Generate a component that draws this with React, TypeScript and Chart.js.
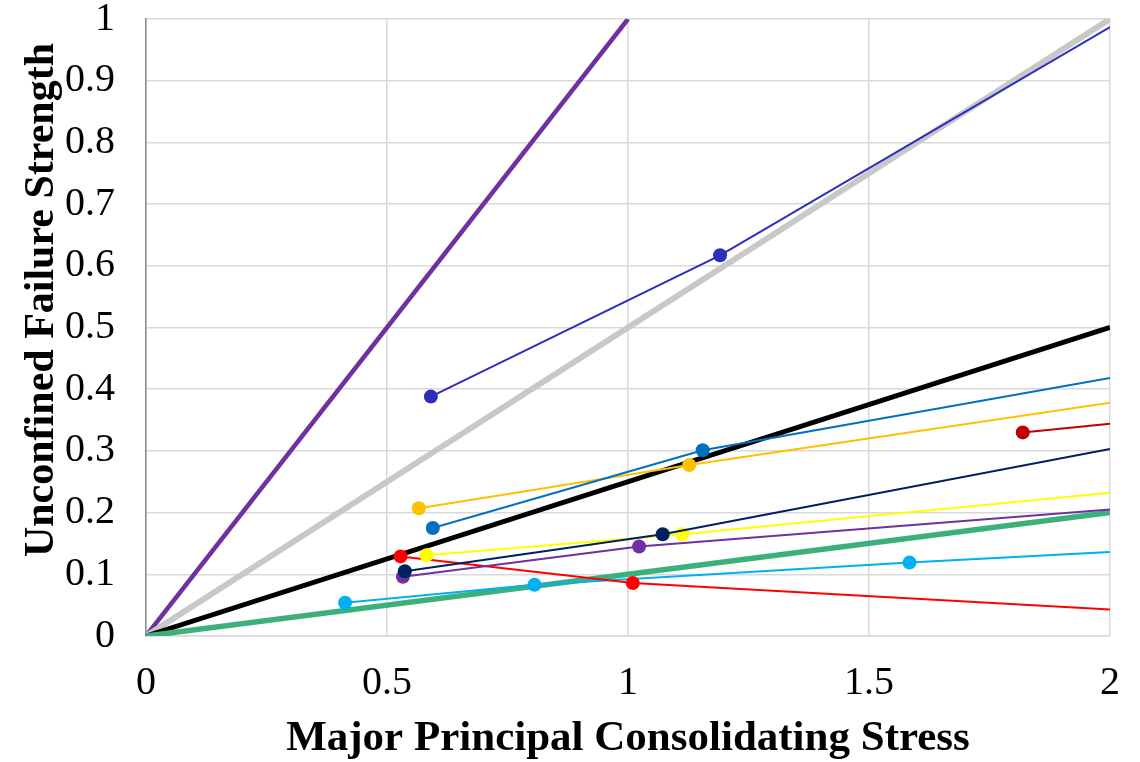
import React, { useEffect, useRef } from "react";
import { Chart, registerables } from "chart.js";

Chart.register(...registerables);

// Axis ranges / ticks
const xTickValues = [0, 0.5, 1, 1.5, 2];
const yTickValues = [0, 0.1, 0.2, 0.3, 0.4, 0.5, 0.6, 0.7, 0.8, 0.9, 1];
const xTitle = "Major Principal Consolidating Stress";
const yTitle = "Unconfined Failure Strength";

// Measured flow-function series (x = consolidating stress, y = failure strength)
const s1X = [0.591, 1.191];
const s1Y = [0.388, 0.617];
const s1End = 0.987;

const s2X = [0.595, 1.155];
const s2Y = [0.175, 0.301];
const s2End = 0.418;

const s3X = [0.566, 1.127];
const s3Y = [0.207, 0.277];
const s3End = 0.378;

const s4X = [1.819];
const s4Y = [0.33];
const s4End = 0.344;

const s5X = [0.537, 1.072];
const s5Y = [0.105, 0.165];
const s5End = 0.303;

const s6X = [0.582, 1.113];
const s6Y = [0.131, 0.165];
const s6End = 0.232;

const s7X = [0.533, 1.023];
const s7Y = [0.096, 0.145];
const s7End = 0.205;

const s8X = [0.528, 1.01];
const s8Y = [0.129, 0.086];
const s8End = 0.043;

const s9X = [0.413, 0.806, 1.584];
const s9Y = [0.054, 0.083, 0.119];
const s9End = 0.136;

// Reference flow-function lines through origin
const ref1X = [0, 1];
const ref1Y = [0, 1];
const ref2X = [0, 2];
const ref2Y = [0, 1];
const ref3X = [0, 2];
const ref3Y = [0, 0.5];
const ref4X = [0, 2];
const ref4Y = [0, 0.2];

const xEnd = 2;

const FONT = '"Liberation Serif", "Times New Roman", serif';

function series(xs: number[], ys: number[], end: number, color: string) {
  const data = xs.map((x, i) => ({ x, y: ys[i] }));
  data.push({ x: xEnd, y: end });
  const n = xs.length;
  return {
    data,
    borderColor: color,
    backgroundColor: color,
    borderWidth: 2,
    pointRadius: (c: any) => (c.dataIndex < n ? 7 : 0),
    pointHoverRadius: (c: any) => (c.dataIndex < n ? 7 : 0),
    pointBorderWidth: 0,
    showLine: true,
    tension: 0,
  };
}

function refLine(xs: number[], ys: number[], color: string, width: number) {
  return {
    data: xs.map((x, i) => ({ x, y: ys[i] })),
    borderColor: color,
    backgroundColor: color,
    borderWidth: width,
    pointRadius: 0,
    showLine: true,
    tension: 0,
  };
}

const titlePlugin = {
  id: "customTitles",
  afterDraw(chart: any) {
    const { ctx, chartArea } = chart;
    ctx.save();
    ctx.fillStyle = "#000";
    ctx.font = `bold 43px ${FONT}`;
    ctx.textAlign = "center";
    ctx.textBaseline = "alphabetic";
    ctx.fillText(xTitle, (chartArea.left + chartArea.right) / 2, 750);
    ctx.font = `bold 42px ${FONT}`;
    ctx.translate(53, 300);
    ctx.rotate(-Math.PI / 2);
    ctx.fillText(yTitle, 0, 0);
    ctx.restore();
  },
};

export default function App() {
  const ref = useRef<HTMLCanvasElement | null>(null);
  useEffect(() => {
    if (!ref.current) return;
    const chart = new Chart(ref.current, {
      type: "scatter",
      data: {
        datasets: [
          series(s1X, s1Y, s1End, "#2C2FBA"),
          series(s2X, s2Y, s2End, "#0070C0"),
          series(s3X, s3Y, s3End, "#FFC000"),
          series(s4X, s4Y, s4End, "#C00000"),
          series(s5X, s5Y, s5End, "#002060"),
          series(s6X, s6Y, s6End, "#FFFF00"),
          series(s7X, s7Y, s7End, "#7030A0"),
          series(s8X, s8Y, s8End, "#FF0000"),
          series(s9X, s9Y, s9End, "#00B0F0"),
          refLine(ref4X, ref4Y, "#3BB07D", 5.5),
          refLine(ref3X, ref3Y, "#000000", 5),
          refLine(ref2X, ref2Y, "#C8C8C8", 6),
          refLine(ref1X, ref1Y, "#7030A0", 4.5),
        ] as any,
      },
      options: {
        responsive: false,
        animation: false,
        layout: { padding: { top: 19, right: 30, left: 0, bottom: 0 } },
        plugins: {
          legend: { display: false },
          tooltip: { enabled: false },
          title: { display: false },
        },
        scales: {
          x: {
            type: "linear",
            min: xTickValues[0],
            max: xTickValues[xTickValues.length - 1],
            afterBuildTicks: (s: any) => {
              s.ticks = xTickValues.map((v) => ({ value: v }));
            },
            ticks: {
              padding: 23,
              color: "#000",
              font: { family: FONT, size: 40 },
              maxRotation: 0,
              callback: (v: any) => String(Number(Number(v).toFixed(1))),
            },
            grid: { color: "#D9D9D9", lineWidth: 1.5, drawTicks: false },
            border: { color: "#D9D9D9", width: 1.5 },
            afterFit: (s: any) => {
              s.height = 126;
              s.paddingLeft = 0;
              s.paddingRight = 0;
            },
          },
          y: {
            type: "linear",
            min: yTickValues[0],
            max: yTickValues[yTickValues.length - 1],
            afterBuildTicks: (s: any) => {
              s.ticks = yTickValues.map((v) => ({ value: v }));
            },
            ticks: {
              padding: 31,
              color: "#000",
              font: { family: FONT, size: 40 },
              callback: (v: any) => String(Number(Number(v).toFixed(1))),
            },
            grid: { color: "#D9D9D9", lineWidth: 1.5, drawTicks: false },
            border: { color: "#8C8C8C", width: 1.5 },
            afterFit: (s: any) => {
              s.width = 146;
              s.paddingTop = 0;
              s.paddingBottom = 0;
            },
          },
        },
      } as any,
      plugins: [titlePlugin],
    });
    return () => chart.destroy();
  }, []);
  return (
    <div style={{ position: "absolute", left: 0, top: 0, width: 1140, height: 762, background: "#fff" }}>
      <canvas ref={ref} width={1140} height={762} style={{ display: "block" }} />
    </div>
  );
}
